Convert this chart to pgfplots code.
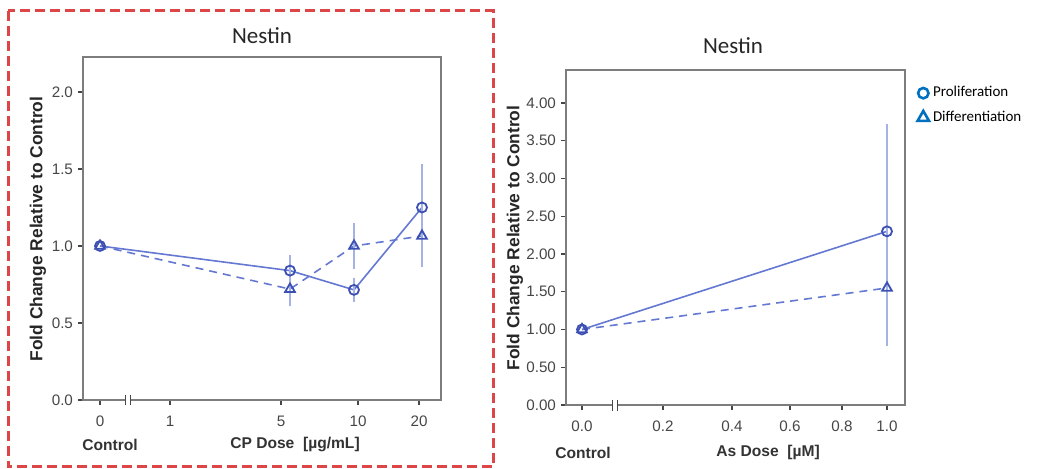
\documentclass[border=0pt]{standalone}
\usepackage{pgfplots}
\pgfplotsset{compat=1.18}
\usepackage{fontspec}
\setmainfont{Liberation Sans}
\newfontfamily\calfont{Carlito}
\definecolor{ln}{RGB}{100,120,210}
\definecolor{mk}{RGB}{60,80,180}
\definecolor{eb}{RGB}{165,178,228}
\definecolor{fr}{RGB}{125,125,125}
\definecolor{tk}{RGB}{70,70,70}
\definecolor{rd}{RGB}{220,70,70}
\definecolor{lg}{RGB}{0,112,192}
\pgfplotsset{
  nest/.style={
    scale only axis, anchor=south west,
    axis line style={fr, line width=0.9pt},
    tick style={tk, line width=0.7pt},
    tick align=outside, major tick length=2.5pt,
    xtick pos=bottom, ytick pos=left,
    ticklabel style={font=\fontsize{7.6}{8}\selectfont, text=tk},
    /pgf/number format/assume math mode=true,
    yticklabel style={xshift=1pt},
    xticklabel style={yshift=-2pt},
    ymin=0,
    clip=false,
  },
  ebs/.style={error bars/y dir=both, error bars/y explicit,
    error bars/error bar style={eb, line width=1.4pt, solid}, error bars/error mark=none},
  prol/.style={ln, line width=0.8pt, mark=o, mark size=2.5pt,
    mark options={mk, line width=0.9pt, solid}, ebs},
  diff/.style={ln, line width=0.8pt, dash pattern=on 4pt off 3pt, mark=triangle, mark size=2.8pt,
    mark options={mk, line width=0.9pt, solid}, ebs},
}
\begin{document}
\begin{tikzpicture}
\useasboundingbox (0,0) rectangle (518.5pt,234.5pt);
% left panel
\begin{axis}[nest, at={(41.5pt,34.5pt)}, width=179pt, height=171.5pt,
  xmin=83, xmax=441, ymax=2.227,
  xtick={100,170,281,358,419}, xticklabels={0,1,5,10,20},
  ytick={0,0.5,1,1.5,2}, yticklabels={0.0,0.5,1.0,1.5,2.0}]
\addplot+[diff] coordinates {(100,1.0) +- (0,0) (290,0.72) +- (0,0.11) (354,1.0) +- (0,0.15) (422,1.065) +- (0,0.2)};
\addplot+[prol] coordinates {(100,1.0) +- (0,0) (290,0.84) +- (0,0.1) (354,0.715) +- (0,0.08) (422,1.25) +- (0,0.28)};
\end{axis}
% right panel
\begin{axis}[nest, at={(283pt,32pt)}, width=169.5pt, height=167.5pt,
  xmin=566, xmax=905, ymax=4.437,
  xtick={582,663,732,790,842,887}, xticklabels={0.0,0.2,0.4,0.6,0.8,1.0},
  ytick={0,0.5,...,4}, yticklabel style={/pgf/number format/.cd, fixed, fixed zerofill, precision=2},
  legend style={at={(rel axis cs:1.03,0.97)}, anchor=north west, draw=none, fill=none,
    font=\calfont\fontsize{7.5}{11}\selectfont, row sep=1.5pt, inner sep=1pt},
  legend cell align=left]
\addplot+[forget plot, prol] coordinates {(582,1.0) +- (0,0) (887,2.3) +- (0,1.42)};
\addplot+[forget plot, diff] coordinates {(582,1.0) +- (0,0) (887,1.55) +- (0,0.77)};
\addlegendimage{only marks, mark=o, mark size=2.6pt, mark options={lg, line width=1.3pt}}
\addlegendentry{Proliferation}
\addlegendimage{only marks, mark=triangle, mark size=3.3pt, mark options={lg, line width=1.3pt}}
\addlegendentry{Differentiation}
\end{axis}
\begin{scope}[yshift=234.5pt, x=0.5pt, y=-0.5pt]
  \draw[rd, line width=1.5pt, dash pattern=on 5pt off 2.5pt] (8,11) rectangle (493,467);
  % axis breaks
  \fill[white] (126,397) rectangle (130,403);
  \draw[tk, line width=0.6pt] (125.5,395) -- (125.5,405) (130.5,395) -- (130.5,405);
  \fill[white] (613,402) rectangle (617,408);
  \draw[tk, line width=0.6pt] (612.5,400) -- (612.5,411) (617.5,400) -- (617.5,411);
  % titles
  \node[font=\calfont\fontsize{11.5}{13}\selectfont, text=black!85] at (262,36) {Nestin};
  \node[font=\calfont\fontsize{11.5}{13}\selectfont, text=black!85] at (733,46) {Nestin};
  % y labels
  \node[rotate=90, font=\bfseries\fontsize{8.7}{10}\selectfont, text=black!85] at (38,229) {Fold Change Relative to Control};
  \node[rotate=90, font=\bfseries\fontsize{8.7}{10}\selectfont, text=black!85] at (515,238) {Fold Change Relative to Control};
  % x labels
  \node[font=\bfseries\fontsize{7.8}{9}\selectfont, text=black!80] at (110,445) {Control};
  \node[font=\bfseries\fontsize{7.8}{9}\selectfont, text=black!80] at (295,445) {CP Dose\ \ [µg/mL]};
  \node[font=\bfseries\fontsize{7.8}{9}\selectfont, text=black!80] at (583,453) {Control};
  \node[font=\bfseries\fontsize{7.8}{9}\selectfont, text=black!80] at (768,452) {As Dose\ \ [µM]};
\end{scope}
\end{tikzpicture}
\end{document}
